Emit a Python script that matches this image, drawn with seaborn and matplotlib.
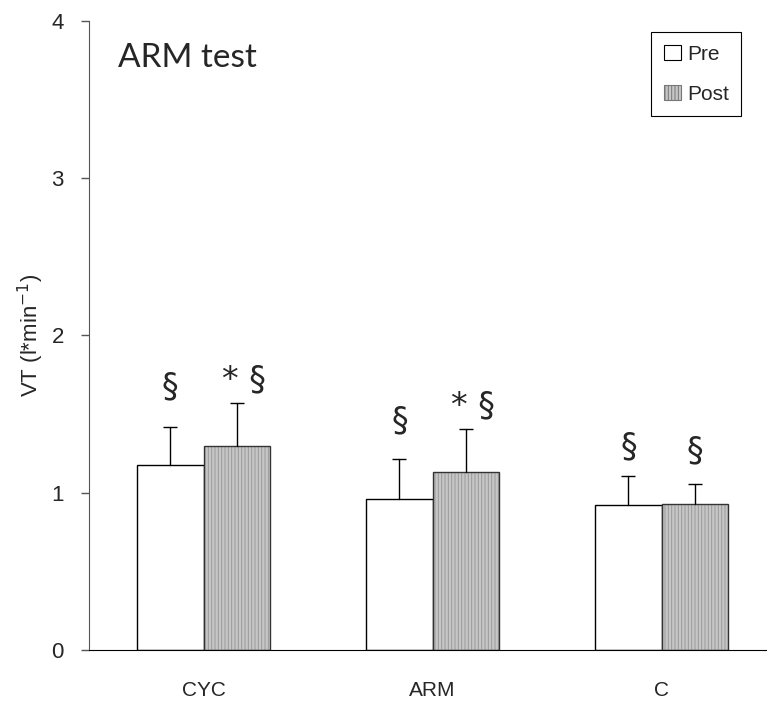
import numpy as np
import pandas as pd
import seaborn as sns
import matplotlib.pyplot as plt
from matplotlib.patches import Patch, Rectangle

# values
groups = ['CYC', 'ARM', 'C']
times = ['Pre', 'Post']
vt_pre = [1.175, 0.962, 0.923]
vt_post = [1.295, 1.133, 0.930]
sd_pre = [0.243, 0.255, 0.182]
sd_post = [0.277, 0.274, 0.124]
marks_pre = ['§', '§', '§']
marks_post = ['* §', '* §', '§']
marks_y_pre = [1.669, 1.455, 1.292]
marks_y_post = [1.718, 1.553, 1.268]

sns.set_style('ticks')
plt.rcParams['font.family'] = ['Liberation Sans', 'DejaVu Sans']
plt.rcParams['hatch.linewidth'] = 0.7

df = pd.DataFrame({
    'group': groups * 2,
    'time': ['Pre'] * 3 + ['Post'] * 3,
    'vt': vt_pre + vt_post,
    'sd': sd_pre + sd_post,
    'mark': marks_pre + marks_post,
    'mark_y': marks_y_pre + marks_y_post,
})

fig = plt.figure(figsize=(7.67, 7.01), dpi=100)
ax = fig.add_axes([0.116, 0.0728, 0.884, 0.8977])

sns.barplot(data=df, x='group', y='vt', hue='time', order=groups, hue_order=times,
            palette={'Pre': 'white', 'Post': '#c6c6c6'}, width=0.58,
            edgecolor='black', linewidth=1.0, errorbar=None, legend=False,
            saturation=1, ax=ax)

# patches come hue by hue: Pre bars first, then Post
bars = [p for p in ax.patches if isinstance(p, Rectangle) and p.get_height() > 0]
for i, p in enumerate(bars):
    row = df.iloc[i]
    cx = p.get_x() + p.get_width() / 2
    top = p.get_height()
    if row['time'] == 'Post':
        # grey vertical hatch, then a dark outline on top
        p.set_hatch('|||||')
        p.set_edgecolor('#9a9a9a')
        p.set_linewidth(0)
        ax.add_patch(Rectangle(p.get_xy(), p.get_width(), top, fill=False,
                               edgecolor='#333333', linewidth=1.0, zorder=p.get_zorder() + 0.1))
    # upper error bar only
    ax.plot([cx, cx], [top, top + row['sd']], color='black', lw=1.0)
    ax.plot([cx], [top + row['sd']], marker='_', ms=10, mew=1.0, color='black')
    ax.text(cx + (0.03 if row['mark'].startswith('*') else 0), row['mark_y'], row['mark'],
            ha='center', va='center', fontsize=24, family=['DejaVu Sans'])

ax.set_xlim(-0.5, 2.46)
ax.set_ylim(0, 4)
ax.set_yticks([0, 1, 2, 3, 4])
ax.set_xlabel('')
ax.set_ylabel('VT (l*min$^{-1}$)', fontsize=16, labelpad=4)
ax.tick_params(axis='x', length=0, pad=22, labelsize=15)
ax.tick_params(axis='y', length=6, width=1, pad=12, labelsize=16, color='#555555')
for s in ['top', 'right']:
    ax.spines[s].set_visible(False)
ax.spines['left'].set_color('#555555')
ax.spines['bottom'].set_color('black')

ax.text(0.043, 0.94, 'ARM test', transform=ax.transAxes, fontsize=24,
        family=['Lato', 'DejaVu Sans'], va='center', ha='left')

handles = [Patch(facecolor='white', edgecolor='black', linewidth=0.8),
           Patch(facecolor='#c6c6c6', edgecolor='#777777', linewidth=0.8, hatch='|||||')]
leg = ax.legend(handles, times, loc='upper right', bbox_to_anchor=(0.962, 0.982),
                fontsize=15, frameon=True, fancybox=False, framealpha=1,
                edgecolor='black', handlelength=0.8, handleheight=0.8,
                handletextpad=0.3, labelspacing=1.0, borderpad=0.6, borderaxespad=0)
leg.get_frame().set_linewidth(0.8)

fig.savefig('out.png', dpi=100)
